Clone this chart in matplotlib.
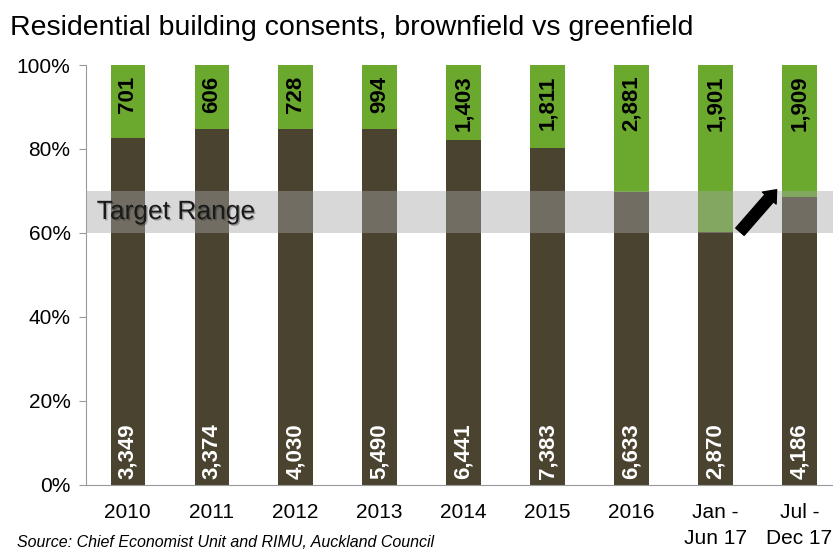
import matplotlib

matplotlib.use('Agg')
import matplotlib.pyplot as plt
import matplotlib.patheffects as pe
import numpy as np

plt.rcParams['font.family'] = ['Liberation Sans', 'DejaVu Sans']

periods = ['2010', '2011', '2012', '2013', '2014', '2015', '2016',
           'Jan -\nJun 17', 'Jul -\nDec 17']
brownfield = [3349, 3374, 4030, 5490, 6441, 7383, 6633, 2870, 4186]
greenfield = [701, 606, 728, 994, 1403, 1811, 2881, 1901, 1909]
target_range = (60, 70)

BROWN = '#4a4330'
GREEN = '#6aa92e'

brown = np.array(brownfield, dtype=float)
green = np.array(greenfield, dtype=float)
total = brown + green
brown_pct = brown / total * 100
green_pct = green / total * 100
x = np.arange(len(periods))

fig = plt.figure(figsize=(8.33, 5.51), dpi=100)
ax = fig.add_axes([0.103, 0.12, 0.897, 0.762])

ax.bar(x, brown_pct, width=0.41, color=BROWN, zorder=2)
ax.bar(x, green_pct, bottom=brown_pct, width=0.41, color=GREEN, zorder=2)

# target band sits over the bars
ax.axhspan(target_range[0], target_range[1], color='#a6a6a6', alpha=0.43,
           lw=0, zorder=3)
ax.text(-0.37, 65, 'Target Range', fontsize=19, color='#1a1a1a',
        va='center', ha='left', zorder=4,
        path_effects=[pe.withSimplePatchShadow(offset=(1, -1), alpha=0.3)])

for i in range(len(periods)):
    ax.text(x[i], 97.5, f'{greenfield[i]:,}', rotation=90, ha='center',
            va='top', fontsize=16, fontweight='bold', color='black', zorder=4)
    ax.text(x[i], 1.5, f'{brownfield[i]:,}', rotation=90, ha='center',
            va='bottom', fontsize=16, fontweight='bold', color='white', zorder=4)

ax.annotate('', xy=(7.75, 70.8), xytext=(7.27, 59.8),
            arrowprops=dict(arrowstyle='simple,head_length=0.8,head_width=1.3,tail_width=0.8',
                            fc='black', ec='black'), zorder=5)

ax.set_xlim(-0.5, 8.4)
ax.set_ylim(0, 100)
ax.set_yticks([0, 20, 40, 60, 80, 100])
ax.set_yticklabels([f'{v}%' for v in [0, 20, 40, 60, 80, 100]], fontsize=15)
ax.set_xticks(x)
ax.set_xticklabels(periods, fontsize=15, linespacing=1.45)
ax.tick_params(axis='x', length=0, pad=13)
ax.tick_params(axis='y', length=5, color='#999999', direction='out', pad=6)
for side in ['top', 'right']:
    ax.spines[side].set_visible(False)
ax.spines['left'].set_color('#999999')
ax.spines['bottom'].set_color('#999999')

fig.text(0.012, 0.95, 'Residential building consents, brownfield vs greenfield',
         fontsize=20.5, ha='left', va='center')
fig.text(0.02, 0.015, 'Source: Chief Economist Unit and RIMU, Auckland Council',
         fontsize=11.5, style='italic', ha='left', va='center')

fig.savefig('out.png', dpi=100)
